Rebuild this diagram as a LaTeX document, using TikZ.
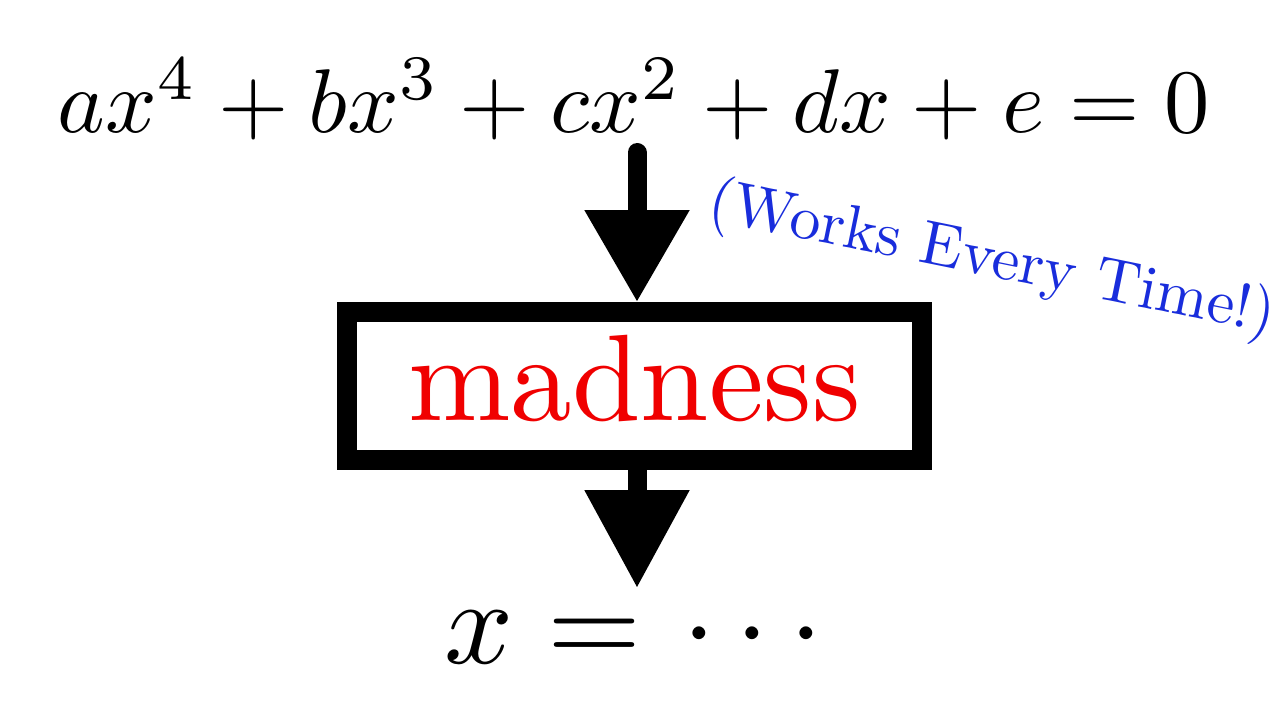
\documentclass[tikz,border=0pt]{standalone}
\usepackage{graphicx}
\usetikzlibrary{arrows.meta}
\definecolor{madred}{RGB}{240,0,0}
\definecolor{workblue}{RGB}{25,45,220}
\tikzset{
  bigarrow/.style={line width=19pt, line cap=round, -{Triangle[width=100pt,length=92pt]}},
  framebox/.style={draw, line width=20pt, inner sep=0pt, minimum width=575pt, minimum height=148pt},
}
\begin{document}
\begin{tikzpicture}[x=1pt,y=-1pt]
\useasboundingbox (0,0) rectangle (1280,720);
\fill[white] (0,0) rectangle (1280,720);
\node[anchor=base, inner sep=0pt] (eq) at (634,132) {\scalebox{9.05}{$ax^4+bx^3+cx^2+dx+e=0$}};
\node[framebox] (box) at (634.5,386) {};
\node[anchor=base, inner sep=0pt, text=madred] (mad) at (634.5,420) {\scalebox{12.3}{madness}};
\node[anchor=base, inner sep=0pt] (res) at (634,663) {\scalebox{12.1}{$x=\mkern1mu\cdots$}};
\node[rotate=-11.5, inner sep=0pt, text=workblue] (works) at (992,261) {\scalebox{6.2}{(Works Every Time!)}};
\coordinate (s1) at (637,152.5);
\coordinate (s2) at (637,470);
\coordinate (t2) at (637,588);
\draw[bigarrow] (s1) -- (s1 |- box.north);
\draw[line width=19pt, -{Triangle[width=100pt,length=98pt]}] (s2) -- (t2);
\end{tikzpicture}
\end{document}
